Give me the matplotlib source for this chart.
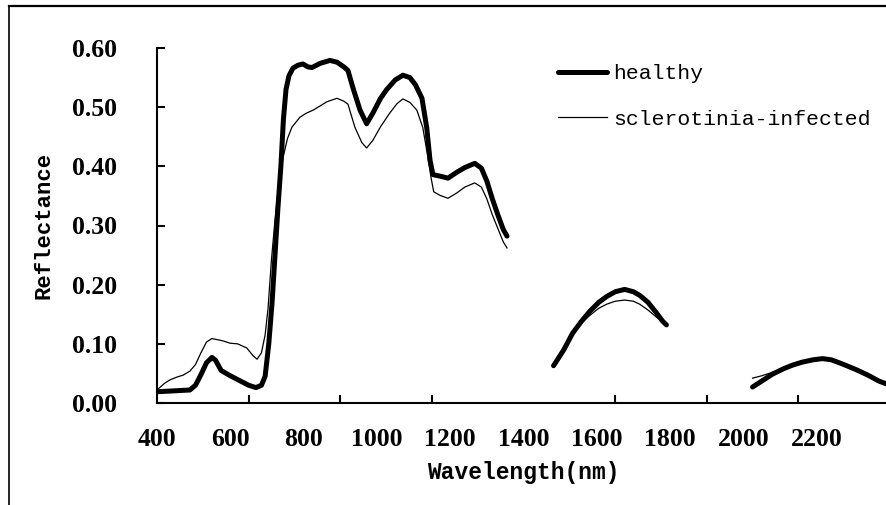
import numpy as np
import matplotlib
matplotlib.use('Agg')
import matplotlib.pyplot as plt
from matplotlib.lines import Line2D

plt.rcParams.update({'font.family': ['Liberation Mono', 'DejaVu Sans Mono'],
                     'axes.linewidth': 1.5})
SERIF = ['Liberation Serif', 'DejaVu Serif']

nan = np.nan

# reflectance spectra, gaps at the water absorption bands
wl_healthy = [400, 430, 460, 490, 505, 520, 535, 550, 560, 575, 600, 625, 650, 670,
              685, 695, 705, 714, 722, 730, 738, 745, 752, 760, 771, 785, 798, 812,
              823, 845, 872, 891, 910, 921, 935, 954, 972, 989, 1010, 1027, 1050,
              1071, 1090, 1105, 1123, 1136, 1145, 1153, 1175, 1194, 1218, 1240, 1267,
              1285, 1300, 1315, 1330, 1345, 1355, nan,
              1482, 1510, 1534, 1558, 1581, 1605, 1627, 1650, 1676, 1700, 1717, 1740,
              1763, 1780, 1790, nan,
              2025, 2050, 2080, 2110, 2134, 2160, 2190, 2216, 2240, 2270, 2309, 2340,
              2370, 2400]
healthy = [0.019, 0.020, 0.021, 0.022, 0.030, 0.048, 0.068, 0.077, 0.072, 0.055, 0.046,
           0.038, 0.030, 0.026, 0.030, 0.045, 0.10, 0.17, 0.25, 0.33, 0.40, 0.48, 0.53,
           0.553, 0.566, 0.571, 0.573, 0.568, 0.567, 0.574, 0.579, 0.576, 0.568, 0.562,
           0.532, 0.495, 0.472, 0.490, 0.515, 0.530, 0.546, 0.554, 0.550, 0.538, 0.515,
           0.465, 0.410, 0.386, 0.383, 0.380, 0.390, 0.398, 0.405, 0.397, 0.375, 0.345,
           0.318, 0.293, 0.282, nan,
           0.063, 0.090, 0.118, 0.138, 0.155, 0.170, 0.180, 0.188, 0.192, 0.188, 0.182,
           0.170, 0.152, 0.138, 0.132, nan,
           0.027, 0.037, 0.049, 0.058, 0.064, 0.069, 0.073, 0.075, 0.073, 0.066, 0.056,
           0.047, 0.037, 0.030]

wl_infected = [400, 420, 435, 455, 471, 490, 505, 520, 535, 550, 565, 580, 600, 620,
               645, 662, 673, 685, 695, 703, 712, 722, 732, 744, 756, 768, 790, 808,
               826, 845, 863, 891, 910, 921, 940, 959, 972, 989, 1010, 1035, 1055,
               1071, 1090, 1109, 1125, 1138, 1148, 1155, 1172, 1194, 1218, 1240, 1267,
               1285, 1300, 1315, 1330, 1345, 1355, nan,
               1482, 1510, 1534, 1558, 1581, 1605, 1627, 1650, 1676, 1700, 1717, 1740,
               1763, 1780, nan,
               2025, 2050, 2080, 2110, 2134, 2160, 2190, 2216, 2240, 2270, 2309, 2340,
               2370, 2400]
infected = [0.022, 0.033, 0.039, 0.044, 0.047, 0.054, 0.065, 0.085, 0.103, 0.109, 0.107,
            0.105, 0.101, 0.100, 0.093, 0.080, 0.074, 0.085, 0.115, 0.16, 0.24, 0.31,
            0.37, 0.415, 0.447, 0.466, 0.483, 0.490, 0.495, 0.502, 0.509, 0.515, 0.510,
            0.505, 0.466, 0.440, 0.431, 0.444, 0.467, 0.490, 0.506, 0.514, 0.508, 0.495,
            0.466, 0.420, 0.380, 0.357, 0.351, 0.346, 0.355, 0.365, 0.372, 0.365, 0.345,
            0.318, 0.295, 0.272, 0.262, nan,
            0.065, 0.092, 0.118, 0.135, 0.148, 0.160, 0.167, 0.172, 0.174, 0.172, 0.167,
            0.157, 0.145, 0.138, nan,
            0.042, 0.046, 0.052, 0.058, 0.063, 0.068, 0.072, 0.074, 0.072, 0.066, 0.057,
            0.048, 0.039, 0.032]

xlabels = np.arange(400, 2201, 200)
xticks = np.arange(400, 2401, 250)
yticks = np.arange(0, 0.61, 0.1)

W, H = 887, 505
fig = plt.figure(figsize=(W/100, H/100), dpi=100)
ax = fig.add_axes([157/W, (H-403)/H, (890-157)/W, (403-48)/H])

ax.plot(wl_healthy, healthy, color='black', lw=3.6, solid_capstyle='round',
        label='healthy')
ax.plot(wl_infected, infected, color='black', lw=0.9, label='sclerotinia-infected')

ax.set_xlim(400, 2400)
ax.set_ylim(0, 0.6)
ax.spines['top'].set_visible(False)
ax.spines['right'].set_visible(False)

ax.set_xticks(xlabels)
ax.set_xticklabels([str(v) for v in xlabels], fontsize=18.5, fontweight='bold',
                   family=SERIF)
ax.set_xticks(xticks, minor=True)
ax.tick_params(axis='x', which='major', length=0, pad=18)
ax.tick_params(axis='x', which='minor', direction='in', length=6, width=1.5)
ax.set_yticks(yticks)
ax.set_yticklabels([f'{v:.2f}' for v in yticks], fontsize=18.5, fontweight='bold',
                   family=SERIF)
ax.tick_params(axis='y', direction='in', length=6, width=1.5, pad=29)

ax.set_xlabel('Wavelength(nm)', fontsize=16.5, fontweight='bold', labelpad=7)
ax.set_ylabel('Reflectance', fontsize=16, fontweight='bold', labelpad=12)

ax.legend(loc='upper left', bbox_to_anchor=(558/W, 1 - 64/H),
          bbox_transform=fig.transFigure, frameon=False, fontsize=15.4,
          handlelength=2.3, handletextpad=0.3, labelspacing=1.25,
          borderpad=0, borderaxespad=0)

# outer frame (only top and left visible in the crop)
fig.add_artist(Line2D([9/W, 1], [1 - 6/H, 1 - 6/H], color='black', lw=1.6,
                      transform=fig.transFigure))
fig.add_artist(Line2D([9/W, 9/W], [0, 1 - 6/H], color='black', lw=1.2,
                      transform=fig.transFigure))

fig.savefig('out.png', dpi=100)
